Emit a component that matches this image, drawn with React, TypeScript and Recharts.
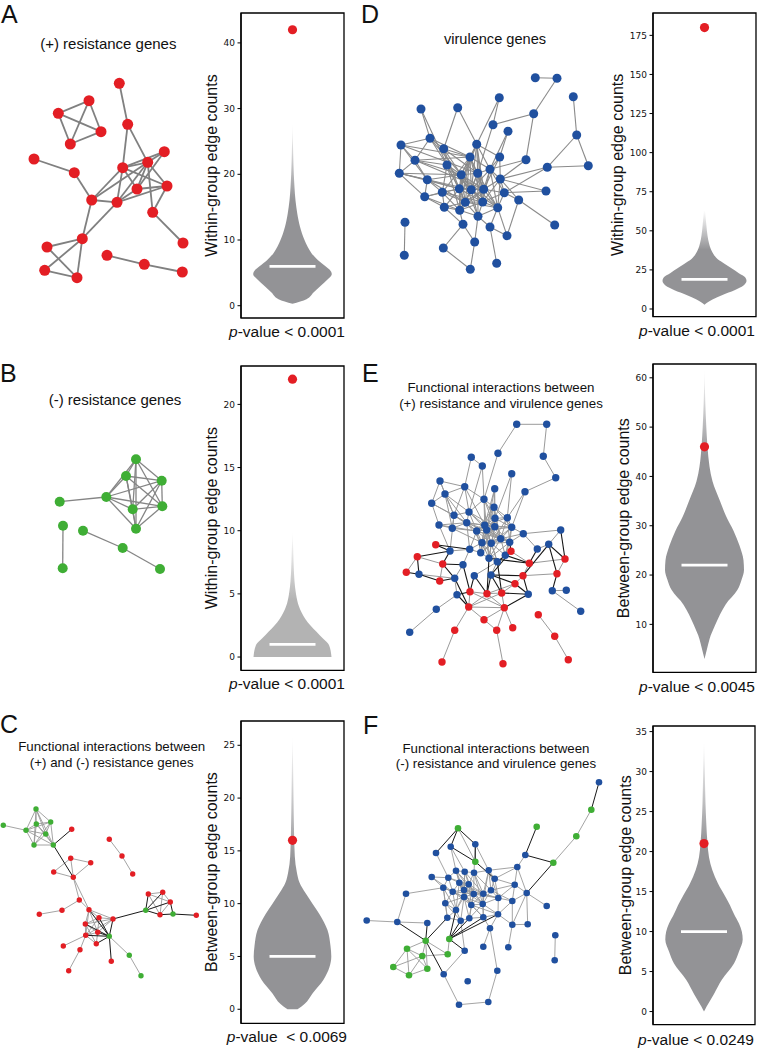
import React from 'react';
import {
  ScatterChart, Scatter, XAxis, YAxis, ReferenceLine, ComposedChart, Area,
  ReferenceDot, ReferenceArea,
} from 'recharts';

const FONT = '"Liberation Sans", Arial, Helvetica, sans-serif';
const TICKFONT = '"DejaVu Sans", sans-serif';
const RED = '#e31e24';
const BLUE = '#20509f';
const GREEN = '#3fae35';
const VGRAY = '#939396';
const VGRAY_LIGHT = '#b3b3b3';

// ---------------- violin data ----------------
const aValues = [0.3, 1, 2, 3, 4, 4.8, 5.5, 6, 7, 8, 9, 10, 11, 12, 13, 14, 16, 18, 20, 23, 28];
const aWidths = [0, 14, 21, 28, 35, 39.3, 37, 33, 25, 19, 15, 12, 9.5, 7.5, 6, 4.8, 3, 2, 1.3, 0.7, 0];
const aTicks = [0, 10, 20, 30, 40];

const bValues = [0, 0.95, 1.5, 2, 2.5, 3, 4, 5, 6, 7, 8.5, 10];
const bWidths = [39, 36.5, 30, 24, 18, 13, 6.5, 3.5, 2, 1.3, 0.7, 0];
const bTicks = [0, 5, 10, 15, 20];

const cValues = [0, 0.5, 1.5, 2.8, 4, 5, 6, 7.5, 9, 10, 11, 12, 13, 14.5, 17, 20, 23, 26];
const cWidths = [5, 12, 20, 31, 37, 38.8, 38, 35, 27, 20, 13, 7, 4.3, 2.3, 1.5, 1, 0.6, 0];
const cTicks = [0, 5, 10, 15, 20, 25];

const dValues = [2.7, 6, 9, 12, 15, 18, 20, 23, 26, 29, 32, 35, 38, 42, 47, 54, 63];
const dWidths = [0, 8, 18, 30, 39, 42, 41, 34, 27, 20, 13, 9, 6.5, 4.5, 3, 1.8, 0.6];
const dTicks = [0, 25, 50, 75, 100, 125, 150, 175];

const eValues = [3, 5, 7, 10, 12, 14, 17, 19, 21, 23, 26, 29, 32, 35, 39, 42, 46, 50, 55, 62];
const eWidths = [0, 2.5, 5, 11, 15.5, 21, 33, 37, 39.5, 39, 35, 29, 21.5, 15.5, 8, 5, 3, 1.8, 0.8, 0];
const eTicks = [10, 20, 30, 40, 50, 60];

const fValues = [0, 0.6, 2.2, 4, 6, 7.5, 9, 10, 11, 12.2, 13.3, 14.3, 16, 17.7, 19.3, 21, 23.5, 26, 30, 34];
const fWidths = [0, 2.5, 10, 18, 30, 35, 38.7, 37.8, 35, 30, 26, 21.7, 14, 8.3, 5, 3.5, 2.3, 1.5, 0.8, 0];
const fTicks = [0, 5, 10, 15, 20, 25, 30, 35];

const medians = { A: 6, B: 1, C: 5, D: 19, E: 22, F: 10 };
const observed = { A: 42, B: 22, C: 16, D: 180, E: 46, F: 21 };
const pValues = { A: '< 0.0001', B: '< 0.0001', C: ' < 0.0069', D: '< 0.0001', E: '< 0.0045', F: '< 0.0249' };

// ---------------- network data ----------------
const netARed: [number, number][] = [
  [119.3, 83.3], [89, 100.7], [58.3, 113.3], [101, 131.7], [70.3, 144], [127.7, 124.3], [34, 159],
  [74.3, 172.7], [122.7, 167.7], [147.7, 162.3], [164.3, 151.7], [167, 186], [137, 189], [91.7, 200],
  [117, 202.3], [152.7, 212.3], [183, 243], [82.3, 238.7], [47, 247], [44.7, 270.3], [77, 277.7],
  [107, 255.3], [144.3, 264.3], [182.3, 272],
];
const netAEdges =
  'r1-r6 r2-r3 r2-r4 r2-r5 r3-r4 r3-r5 r4-r5 r6-r9 r6-r10 r7-r8 r8-r14 r9-r10 r9-r11 r9-r12 r9-r13 r9-r14 r9-r15 ' +
  'r10-r11 r10-r12 r10-r13 r10-r15 r10-r16 r10-r14 r11-r13 r12-r13 r12-r15 r12-r16 r13-r15 r14-r15 r14-r18 r15-r18 ' +
  'r16-r17 r18-r19 r18-r20 r18-r21 r19-r21 r20-r21 r22-r23 r23-r24';

const netBGreen: [number, number][] = [
  [136, 459.3], [126, 476], [161.7, 480.7], [106.3, 497], [132.7, 509.3], [162.3, 506.3], [136, 528.7],
  [59.7, 501.7], [63, 525.7], [62.7, 568.3], [83, 530.7], [122.7, 548], [160, 569],
];
const netBEdges =
  'g1-g2 g1-g3 g1-g4 g1-g5 g1-g6 g1-g7 g2-g3 g2-g4 g2-g5 g2-g6 g2-g7 g3-g4 g3-g5 g3-g6 g3-g7 g4-g5 g4-g6 g4-g7 ' +
  'g5-g6 g5-g7 g6-g7 g4-g8 g9-g10 g11-g12 g12-g13';

const netDBlue: [number, number][] = [
  [535.3, 77.7], [557, 78.3], [499.3, 97.7], [573.3, 96.7], [421, 109], [457.7, 107.7], [533.7, 113.7],
  [493, 124.7], [508, 131.3], [576.7, 135], [430, 138.3], [401, 145], [476.7, 144.3], [443.7, 148.7],
  [470, 157], [499.7, 157], [526, 159.7], [415, 160.3], [447, 165], [588.3, 165.7], [547.3, 167.3],
  [399.3, 173.3], [461.3, 174.7], [477.7, 173.3], [490, 169.3], [427.3, 179.7], [500.3, 179], [459.3, 188.7],
  [471.3, 189.7], [483.7, 189.3], [442.3, 192.3], [504.3, 192.7], [546, 191], [424.7, 196.7], [518.7, 200],
  [465.3, 202.3], [482.7, 202], [444.3, 207.3], [459.7, 210.3], [497.7, 207.7], [478, 216.3], [463, 224.3],
  [490, 227], [554.7, 225], [507, 235.7], [405, 222.3], [404.3, 255.3], [474.7, 242], [443.3, 248],
  [470.3, 269.3], [496.7, 263.3],
];
const netDEdges =
  'b1-b2 b2-b7 b7-b8 b7-b17 b3-b13 b8-b24 b9-b25 b4-b10 b10-b20 b10-b21 b20-b21 b21-b27 b21-b32 b17-b27 b17-b25 ' +
  'b16-b13 b16-b27 b16-b25 b33-b27 b33-b32 b35-b32 b35-b44 b35-b45 b35-b27 b5-b11 b5-b19 b6-b13 b6-b14 b11-b12 ' +
  'b11-b14 b11-b18 b11-b19 b11-b15 b12-b18 b12-b22 b12-b26 b14-b15 b14-b19 b14-b23 b14-b24 b18-b19 b18-b22 ' +
  'b18-b26 b18-b23 b22-b26 b22-b28 b22-b34 b26-b31 b26-b34 b26-b28 b34-b31 b34-b38 b34-b28 b13-b15 b13-b23 ' +
  'b13-b24 b13-b25 b13-b29 b15-b23 b15-b24 b15-b28 b15-b29 b15-b30 b15-b36 b15-b37 b19-b23 b19-b28 b19-b31 ' +
  'b19-b36 b23-b24 b23-b28 b23-b29 b23-b30 b23-b36 b23-b39 b24-b25 b24-b29 b24-b30 b24-b37 b24-b40 b25-b27 ' +
  'b25-b30 b25-b32 b25-b37 b27-b30 b27-b32 b27-b40 b28-b29 b28-b31 b28-b36 b28-b38 b28-b39 b29-b30 b29-b36 ' +
  'b29-b37 b29-b41 b30-b32 b30-b37 b30-b40 b30-b36 b31-b38 b31-b36 b32-b40 b32-b37 b36-b37 b36-b39 b36-b41 ' +
  'b36-b38 b37-b40 b37-b41 b37-b39 b38-b39 b38-b42 b39-b41 b39-b42 b40-b41 b40-b43 b41-b43 b41-b48 b42-b49 ' +
  'b42-b48 b43-b45 b43-b51 b48-b50 b49-b50 b45-b40 b46-b47 b12-b24 b22-b23 b26-b23 b18-b15 b11-b23 b9-b16 b3-b8 ' +
  'b13-b30 b15-b25 b19-b29 b23-b37 b24-b36 b28-b30 b29-b40 b31-b37 b36-b40 b14-b28 b12-b15 b22-b29 b18-b30 ' +
  'b26-b36 b34-b39 b31-b39 b25-b40 b16-b30 b13-b37 b27-b37 b15-b31 b15-b39 b23-b41 b24-b41 b28-b37 b29-b39 ' +
  'b30-b39 b19-b39 b23-b40 b25-b29 b13-b28 b19-b37';

const netEBlue: [number, number][] = [
  [516.7, 424.3], [546.7, 424.3], [471.3, 457.3], [498, 453.3], [543.3, 456.3], [482.3, 466], [511.7, 473.7],
  [555.7, 477.7], [440, 481], [464.7, 486.7], [494.7, 488.7], [445, 494], [525, 491.7], [484, 499.3],
  [431.7, 503.3], [494, 507.3], [454, 515.3], [469, 512], [495, 518.3], [507.3, 517.7], [439, 525],
  [452.3, 528.3], [466.7, 522.7], [484.7, 525.3], [494.7, 526.7], [511.7, 527.3], [476.7, 531], [486.7, 530],
  [523.3, 533.7], [560.7, 530], [500.7, 538.7], [482, 542.7], [491.3, 543.3], [509.7, 542.3], [450, 551],
  [469.7, 549.3], [480.7, 552.7], [537.3, 549], [548.7, 544.3], [489, 558.3], [497.3, 561.7], [505.3, 555.3],
  [463, 564.7], [419, 574.3], [454.7, 578.3], [474.3, 575.7], [491, 575], [528.3, 594.3], [552.3, 590.7],
  [566.3, 590.3], [457, 594.7], [436.3, 609.3], [580.7, 611.3], [409.7, 632.3],
];
const netERed: [number, number][] = [
  [435.7, 544.7], [417.3, 556.7], [442.7, 564], [406.3, 572.3], [439.7, 581], [511, 551.3], [529.3, 563.3],
  [565, 559], [523, 575.7], [557, 573.7], [515, 583.7], [470, 591.7], [487, 593.7], [501.7, 593],
  [468.7, 607], [504.3, 607.7], [484, 619.7], [538.3, 614.7], [454.7, 630.3], [496.7, 630.3], [512.7, 627.7],
  [554.7, 636.3], [442, 662], [503, 663.7], [568.3, 659.7],
];
const netEEdges =
  'b1-b2 b1-b4 b4-b14 b2-b5 b5-b8 b8-b13 b13-b20 b3-b6 b3-b10 b6-b14 b6-b18 b7-b19 b9-b10 b9-b12 b9-b15 b9-b17 ' +
  'b10-b12 b10-b14 b10-b18 b10-b17 b11-b16 b11-b19 b12-b15 b12-b17 b12-b18 b12-b22 b15-b17 b15-b23 b15-b21 ' +
  'b14-b16 b14-b18 b14-b24 b16-b19 b16-b25 b16-b24 b17-b18 b17-b22 b17-b23 b17-b35 b18-b23 b18-b24 b18-b27 ' +
  'b19-b20 b19-b25 b19-b26 b19-b28 b20-b26 b20-b31 b21-b22 b21-b35 b21-b23 b22-b23 b22-b27 b23-b24 b23-b27 ' +
  'b23-b32 b23-b36 b24-b25 b24-b27 b24-b28 b24-b31 b24-b32 b24-b33 b25-b26 b25-b28 b25-b31 b25-b33 b25-b34 ' +
  'b26-b29 b26-b31 b26-b34 b27-b28 b27-b32 b27-b36 b27-b37 b28-b31 b28-b32 b28-b33 b28-b37 b29-b30 b29-b34 ' +
  'b29-b31 b30-b39 b31-b33 b31-b34 b31-b42 b32-b33 b32-b37 b32-b40 b33-b34 b33-b40 b33-b41 b34-b42 b36-b37 ' +
  'b36-b43 b35-b36 b37-b40 b40-b41 b41-b42 b38-b39 b45-b43 b45-b51 b46-b41 b47-b41 b49-b50 b52-b51 b54-b52 ' +
  'b53-b49 b29-b38 b44-b45 b24-b34 b25-b32 b27-b33 b28-b34 b19-b31 b16-b28 b14-b25 b18-b28 b23-b28 b24-b26 ' +
  'b26-b33 b31-b32 b32-b36 b33-b37 b20-b34 b26-b42 b27-b31 b16-b20 b12-b23 b10-b24 ' +
  'b14-b19 b14-b28 b16-b26 b16-b31 b18-b25 b19-b27 b19-b32 b20-b24 b20-b33 b23-b25 b23-b31 b24-b37 b25-b37 ' +
  'b25-b40 b26-b28 b27-b34 b28-b40 b28-b41 b31-b37 b31-b40 b32-b41 b33-b42 b34-b40 b24-b40 b16-b27 b11-b24 ' +
  'b11-b28 b7-b20 b13-b26 b22-b32 b17-b27 b21-b27 ' +
  'r12-r13 r13-r14 r12-r15 r14-r16 r15-r16 r15-r17 r16-r17 r13-r15 r13-r16 r14-r15 r12-r16 r17-r20 r16-r20 ' +
  'r15-r19 r19-r23 r20-r24 r16-r21 r18-r22 r22-r25 r2-r3 r3-r5 r6-r7 r7-r9 r7-r8 r8-r10 r9-r10 r9-r11 r11-r14 ' +
  'r11-r13 r2-r4 ' +
  'r1-b35 r1-b36 r2-b35 r2-b44 r3-b43 r3-b35 r3-b45 r4-b44 r5-b44 r5-b45 r6-b34 r6-b41 r6-b42 r6-b47 r7-b38 ' +
  'r7-b42 r7-b40 r8-b30 r8-b39 r9-b48 r9-b47 r9-b39 r10-b39 r11-b48 r11-b47 r12-b43 r12-b46 r12-b51 r13-b46 ' +
  'r13-b47 r13-b40 r14-b47 r14-b48 r14-b41 r15-b51 r15-b45 r16-b48 r10-b49';

const netCGreen: [number, number][] = [
  [36, 809], [50.7, 822], [36.3, 824], [26, 830.3], [45.7, 834], [3.3, 825.3], [34, 845], [53.3, 845],
  [145.7, 910.3], [173, 914], [109.3, 936.3], [129.3, 955.3], [141, 975.7],
];
const netCRed: [number, number][] = [
  [71.7, 829.3], [109.3, 839.3], [122, 856], [132.7, 874], [70.7, 858.3], [90.7, 862.7], [53.7, 872],
  [73.3, 877.3], [79.3, 900], [62, 910.3], [39.3, 914.3], [89, 909.7], [99, 917.7], [113, 919], [85.3, 924],
  [97.7, 932.3], [85.7, 935.3], [96.3, 943.7], [63.3, 946], [80, 949.7], [111.3, 961.3], [68.7, 970.7],
  [148.3, 894], [162.7, 892.3], [170.3, 902], [160, 914.7], [196.3, 915.3],
];
const netCEdges =
  'g1-g2 g1-g3 g1-g4 g1-g5 g1-g7 g1-g8 g2-g3 g2-g4 g2-g5 g2-g7 g2-g8 g3-g4 g3-g5 g3-g7 g3-g8 g4-g5 g4-g7 g4-g8 ' +
  'g5-g7 g5-g8 g7-g8 g4-g6 g8-r1 g8-r8 r5-r6 r5-r7 r5-r8 r6-r8 r7-r8 r2-r3 r3-r4 r8-r9 r8-r12 r9-r10 r10-r11 ' +
  'r9-r12 r12-r13 r12-r14 r12-r15 r12-r16 r12-r17 r13-r14 r13-r15 r13-r16 r13-r17 r14-r15 r14-r16 r14-r17 ' +
  'r15-r16 r15-r17 r16-r17 r16-r18 r17-r18 r15-r18 r19-r17 r20-r17 r20-r22 g11-r12 g11-r13 g11-r14 g11-r15 ' +
  'g11-r16 g11-r17 g11-r21 g11-r18 g11-g12 g12-g13 r14-g9 g9-r23 g9-r24 g9-r25 g9-r26 r23-r24 r23-r25 r24-r25 ' +
  'r23-r26 r24-r26 r25-r26 r25-g10 g10-r26 g10-r27';

const netFBlue: [number, number][] = [
  [599, 782.3], [450.7, 846.7], [475.3, 844.3], [436, 853], [525.3, 855], [517.3, 867], [431.7, 877],
  [448.3, 877.7], [456, 870.7], [464.7, 871.7], [474, 872.7], [488.7, 870.3], [494.7, 878.7], [459.3, 882.7],
  [468.7, 884.3], [443.3, 887.7], [452.7, 891.7], [464, 890], [473.7, 894], [483.3, 893.7], [491, 890.3],
  [514.7, 884.7], [526.7, 893], [406, 893.7], [445.3, 903.3], [464, 897], [471.3, 905], [482.7, 904],
  [498.3, 898], [512.3, 901], [546.7, 906], [456, 910], [447.3, 917.7], [460.7, 920.7], [469.3, 918.3],
  [483.3, 917.3], [498, 914.3], [490, 928.3], [397.3, 922], [427.3, 923], [512.3, 924.7], [527.7, 924.3],
  [555.3, 935.3], [464.7, 950.7], [483.3, 946.7], [508.3, 947.3], [554.7, 960.3], [497.3, 970.7],
  [443.7, 974.3], [467.7, 981.3], [459, 1004.7], [488.3, 1002], [366.7, 920.5],
];
const netFGreen: [number, number][] = [
  [458, 828.3], [536.7, 826.7], [591.3, 809.7], [576.3, 836.3], [553.3, 862.7], [475.3, 861.7], [425.7, 940.7],
  [449.3, 939], [407, 948.7], [422.3, 956], [447.7, 954.3], [393.3, 967], [427.3, 968.7], [409, 975.3],
];
const netFEdges =
  'b1-g3 g3-g4 g4-g5 g5-b5 g5-b23 g2-b5 b5-b6 g1-b2 g1-b4 g1-b3 g1-g6 g6-b2 g6-b3 g6-b13 b4-b8 b2-b9 b2-b10 ' +
  'b3-b11 b3-b12 b6-b12 b6-b13 b6-b22 b6-b23 b7-b8 b7-b16 b7-b17 b8-b9 b8-b14 b8-b16 b8-b17 b9-b10 b9-b14 ' +
  'b9-b15 b10-b11 b10-b15 b10-b18 b11-b12 b11-b15 b11-b19 b11-b20 b12-b13 b12-b21 b12-b20 b13-b21 b13-b22 ' +
  'b13-b29 b14-b15 b14-b17 b14-b18 b14-b26 b15-b18 b15-b19 b15-b26 b16-b17 b16-b25 b16-b32 b17-b18 b17-b25 ' +
  'b17-b26 b17-b32 b18-b19 b18-b26 b18-b27 b19-b20 b19-b27 b19-b28 b20-b21 b20-b28 b20-b29 b21-b29 b21-b22 ' +
  'b21-b30 b22-b23 b22-b30 b22-b29 b23-b30 b23-b31 b23-b41 b23-b42 b24-b16 b24-b39 b25-b32 b25-b26 b25-b33 ' +
  'b26-b27 b26-b32 b26-b34 b26-b35 b27-b28 b27-b35 b27-b36 b28-b29 b28-b36 b28-b37 b29-b30 b29-b37 b30-b37 ' +
  'b30-b41 b32-b33 b32-b34 b33-b34 b34-b35 b35-b36 b36-b37 b36-b38 b37-b38 b37-b41 b38-b45 b38-b48 b41-b42 ' +
  'b41-b46 b39-b40 b39-b53 b44-b34 b44-b49 b49-b51 b51-b52 b52-b48 b47-b43 b9-b18 b10-b19 b14-b19 b15-b20 ' +
  'b18-b20 b19-b26 b20-b27 b11-b21 b12-b29 b15-b28 b18-b28 b26-b28 b19-b29 b14-b27 b17-b27 ' +
  'b8-b15 b9-b19 b10-b20 b11-b28 b12-b28 b14-b20 b15-b27 b16-b26 b17-b19 b18-b29 b19-b35 b20-b36 b21-b28 ' +
  'b25-b34 b26-b36 b27-b37 b28-b35 b9-b26 b10-b26 b14-b32 b15-b32 b16-b33 ' +
  'g7-b40 g7-b39 g7-b33 g7-b49 ' +
  'g8-b32 g8-b35 g8-b36 g8-b44 g8-b37 g8-g11 g7-g9 g7-g10 g7-g13 g7-g11 g9-g10 g9-g12 g9-g14 g9-g13 g10-g12 ' +
  'g10-g13 g10-g14 g12-g14 g13-g14 g10-g11 g8-b34';

// ---------------- components ----------------
type Groups = Record<string, { pts: [number, number][]; color: string }>;

function Network(props: {
  left: number; top: number; width: number; height: number;
  groups: Groups; edges: string; r: number; ew: number; grayColor?: string;
}) {
  const { left, top, width, height, groups, edges, r, ew } = props;
  const gray = props.grayColor || '#8c8c8c';
  const lookup = (id: string) => {
    const g = groups[id[0]];
    const p = g.pts[parseInt(id.slice(1), 10) - 1];
    return { x: p[0], y: p[1] };
  };
  const list = edges.trim().split(/\s+/).map((s) => {
    const [a, b] = s.split('-');
    return { a, b, between: a[0] !== b[0] };
  });
  const grayEdges = list.filter((e) => !e.between);
  const blackEdges = list.filter((e) => e.between);
  return (
    <div style={{ position: 'absolute', left, top }}>
      <ScatterChart width={width} height={height} margin={{ top: 0, right: 0, bottom: 0, left: 0 }}>
        <XAxis type="number" dataKey="x" domain={[left, left + width]} hide allowDataOverflow />
        <YAxis type="number" dataKey="y" domain={[top, top + height]} hide reversed allowDataOverflow />
        {grayEdges.map((e, i) => (
          <ReferenceLine key={'g' + i} segment={[lookup(e.a), lookup(e.b)]} stroke={gray} strokeWidth={ew} ifOverflow="visible" />
        ))}
        {blackEdges.map((e, i) => (
          <ReferenceLine key={'k' + i} segment={[lookup(e.a), lookup(e.b)]} stroke="#151515" strokeWidth={ew * 1.1} ifOverflow="visible" />
        ))}
        {Object.keys(groups).map((k) => (
          <Scatter
            key={k}
            data={groups[k].pts.map((p) => ({ x: p[0], y: p[1] }))}
            fill={groups[k].color}
            isAnimationActive={false}
            shape={(p: any) => <circle cx={p.cx} cy={p.cy} r={r} fill={groups[k].color} />}
          />
        ))}
      </ScatterChart>
    </div>
  );
}

function Violin(props: {
  id: string; boxLeft: number; boxTop: number; boxW: number; boxH: number; domain: [number, number];
  ticks: number[]; values: number[]; widths: number[]; median: number; obs: number; fill: string;
  fadeFrom: number; label: string; labelDist: number;
}) {
  const { id, boxLeft, boxTop, boxW, boxH, domain, ticks, values, widths, median, obs, fill, fadeFrom, label, labelDist } = props;
  const axisW = labelDist * 2;
  const half = boxW / 2;
  const data = values.map((v, i) => ({ v, w: widths[i] }));
  const vmin = Math.min(...values);
  const vmax = Math.max(...values);
  const off = (v: number) => (vmax - v) / (vmax - vmin);
  return (
    <div style={{ position: 'absolute', left: boxLeft - axisW, top: boxTop - 2 }}>
      <ComposedChart layout="vertical" width={axisW + boxW + 4} height={boxH + 4} data={data}
        margin={{ top: 2, right: 4, bottom: 2, left: 0 }}>
        <defs>
          <linearGradient id={id} x1="0" y1="0" x2="0" y2="1">
            <stop offset="0" stopColor={fill} stopOpacity={0} />
            <stop offset={off(fadeFrom)} stopColor={fill} stopOpacity={1} />
            <stop offset="1" stopColor={fill} stopOpacity={1} />
          </linearGradient>
        </defs>
        <XAxis type="number" domain={[-half, half]} hide allowDataOverflow />
        <YAxis
          type="number" dataKey="v" domain={domain} ticks={ticks} interval={0} allowDataOverflow reversed
          width={axisW} tickSize={3.5} tickMargin={2.5}
          tick={{ fontSize: 9, fill: '#111', fontFamily: TICKFONT }}
          axisLine={{ stroke: '#000', strokeWidth: 1.3 }} tickLine={{ stroke: '#000', strokeWidth: 1 }}
          label={{ value: label, angle: -90, position: 'center', fill: '#111', fontSize: 16, fontFamily: FONT }}
        />
        <Area dataKey={(d: any) => [-d.w, d.w]} type="monotone" fill={`url(#${id})`} fillOpacity={1} stroke="none" isAnimationActive={false} />
        <ReferenceLine segment={[{ x: -23, y: median }, { x: 23, y: median }]} stroke="#fff" strokeWidth={2.8} ifOverflow="visible" />
        <ReferenceDot x={0} y={obs} r={4.6} fill={RED} stroke="none" ifOverflow="visible" />
        <ReferenceArea x1={-half} x2={half} y1={domain[0]} y2={domain[1]} fill="none" fillOpacity={0} stroke="#000" strokeWidth={1.3} ifOverflow="visible" />
      </ComposedChart>
    </div>
  );
}

function Txt(props: { x: number; y: number; size: number; children: React.ReactNode; anchor?: 'middle' | 'start' | 'end' }) {
  const { x, y, size, children, anchor = 'middle' } = props;
  const tx = anchor === 'middle' ? '-50%' : anchor === 'end' ? '-100%' : '0';
  return (
    <div style={{
      position: 'absolute', left: x, top: y - size * 0.49, fontSize: size, lineHeight: 1, fontFamily: FONT,
      whiteSpace: 'pre', transform: `translateX(${tx})`, color: '#111',
    }}>{children}</div>
  );
}

function PText(props: { right: number; y: number; value: string }) {
  return (
    <Txt x={props.right} y={props.y} size={15.5} anchor="end">
      <i>p</i>-value {props.value}
    </Txt>
  );
}

function Letter(props: { x: number; top: number; ch: string }) {
  return (
    <div style={{ position: 'absolute', left: props.x, top: props.top - 3.3, fontSize: 25, lineHeight: 1, fontFamily: FONT, color: '#111' }}>
      {props.ch}
    </div>
  );
}

export default function App() {
  return (
    <div style={{ position: 'absolute', left: 0, top: 0, width: 768, height: 1049, background: '#fff', overflow: 'hidden' }}>
      <Letter x={1} top={5} ch="A" />
      <Letter x={361} top={5} ch="D" />
      <Letter x={0} top={364} ch="B" />
      <Letter x={362} top={364} ch="E" />
      <Letter x={0} top={715} ch="C" />
      <Letter x={363} top={716} ch="F" />

      <Txt x={108.3} y={43.3} size={15}>(+) resistance genes</Txt>
      <Txt x={495} y={39.3} size={14.6}>virulence genes</Txt>
      <Txt x={115} y={399} size={15}>(-) resistance genes</Txt>
      <Txt x={501} y={387.3} size={13.3}>Functional interactions between</Txt>
      <Txt x={501} y={403.3} size={13.3}>(+) resistance and virulence genes</Txt>
      <Txt x={111.7} y={746.7} size={13.3}>Functional interactions between</Txt>
      <Txt x={111.7} y={762.7} size={13.3}>(+) and (-) resistance genes</Txt>
      <Txt x={496} y={748.3} size={13.3}>Functional interactions between</Txt>
      <Txt x={496} y={764} size={13.3}>(-) resistance and virulence genes</Txt>

      <Network left={0} top={70} width={200} height={220} r={5.5} ew={1.8} grayColor="#808080"
        groups={{ r: { pts: netARed, color: RED } }} edges={netAEdges} />
      <Network left={40} top={445} width={140} height={140} r={5} ew={1.3} grayColor="#858585"
        groups={{ g: { pts: netBGreen, color: GREEN } }} edges={netBEdges} />
      <Network left={388} top={65} width={212} height={215} r={4.5} ew={1.1} grayColor="#8a8a8a"
        groups={{ b: { pts: netDBlue, color: BLUE } }} edges={netDEdges} />
      <Network left={395} top={415} width={200} height={257} r={3.7} ew={1} grayColor="#9a9a9a"
        groups={{ b: { pts: netEBlue, color: BLUE }, r: { pts: netERed, color: RED } }} edges={netEEdges} />
      <Network left={0} top={800} width={210} height={185} r={2.7} ew={0.9} grayColor="#9a9a9a"
        groups={{ g: { pts: netCGreen, color: GREEN }, r: { pts: netCRed, color: RED } }} edges={netCEdges} />
      <Network left={360} top={775} width={250} height={237} r={3.3} ew={0.9} grayColor="#9a9a9a"
        groups={{ b: { pts: netFBlue, color: BLUE }, g: { pts: netFGreen, color: GREEN } }} edges={netFEdges} />

      <Violin id="vA" boxLeft={241} boxTop={13} boxW={103} boxH={305} domain={[-1.87, 44.55]} ticks={aTicks}
        values={aValues} widths={aWidths} median={medians.A} obs={observed.A} fill={VGRAY} fadeFrom={16}
        label="Within-group edge counts" labelDist={30} />
      <Violin id="vB" boxLeft={241} boxTop={365.7} boxW={103} boxH={304.3} domain={[-1.05, 23.04]} ticks={bTicks}
        values={bValues} widths={bWidths} median={medians.B} obs={observed.B} fill={VGRAY_LIGHT} fadeFrom={4.5}
        label="Within-group edge counts" labelDist={30} />
      <Violin id="vC" boxLeft={241} boxTop={721} boxW={103} boxH={302.3} domain={[-1.33, 27.3]} ticks={cTicks}
        values={cValues} widths={cWidths} median={medians.C} obs={observed.C} fill={VGRAY} fadeFrom={14}
        label="Between-group edge counts" labelDist={30} />
      <Violin id="vD" boxLeft={653} boxTop={13.3} boxW={103} boxH={303.7} domain={[-4.92, 189.3]} ticks={dTicks}
        values={dValues} widths={dWidths} median={medians.D} obs={observed.D} fill={VGRAY} fadeFrom={38}
        label="Within-group edge counts" labelDist={36} />
      <Violin id="vE" boxLeft={653} boxTop={364.3} boxW={103} boxH={308.4} domain={[0.26, 62.8]} ticks={eTicks}
        values={eValues} widths={eWidths} median={medians.E} obs={observed.E} fill={VGRAY} fadeFrom={44}
        label="Between-group edge counts" labelDist={30} />
      <Violin id="vF" boxLeft={653} boxTop={725.7} boxW={102} boxH={298.6} domain={[-1.63, 35.7]} ticks={fTicks}
        values={fValues} widths={fWidths} median={medians.F} obs={observed.F} fill={VGRAY} fadeFrom={21}
        label="Between-group edge counts" labelDist={28} />

      <PText right={345} y={331.7} value={pValues.A} />
      <PText right={345} y={684} value={pValues.B} />
      <PText right={347} y={1036.7} value={pValues.C} />
      <PText right={755} y={331} value={pValues.D} />
      <PText right={755} y={686.7} value={pValues.E} />
      <PText right={754} y={1040} value={pValues.F} />
    </div>
  );
}
